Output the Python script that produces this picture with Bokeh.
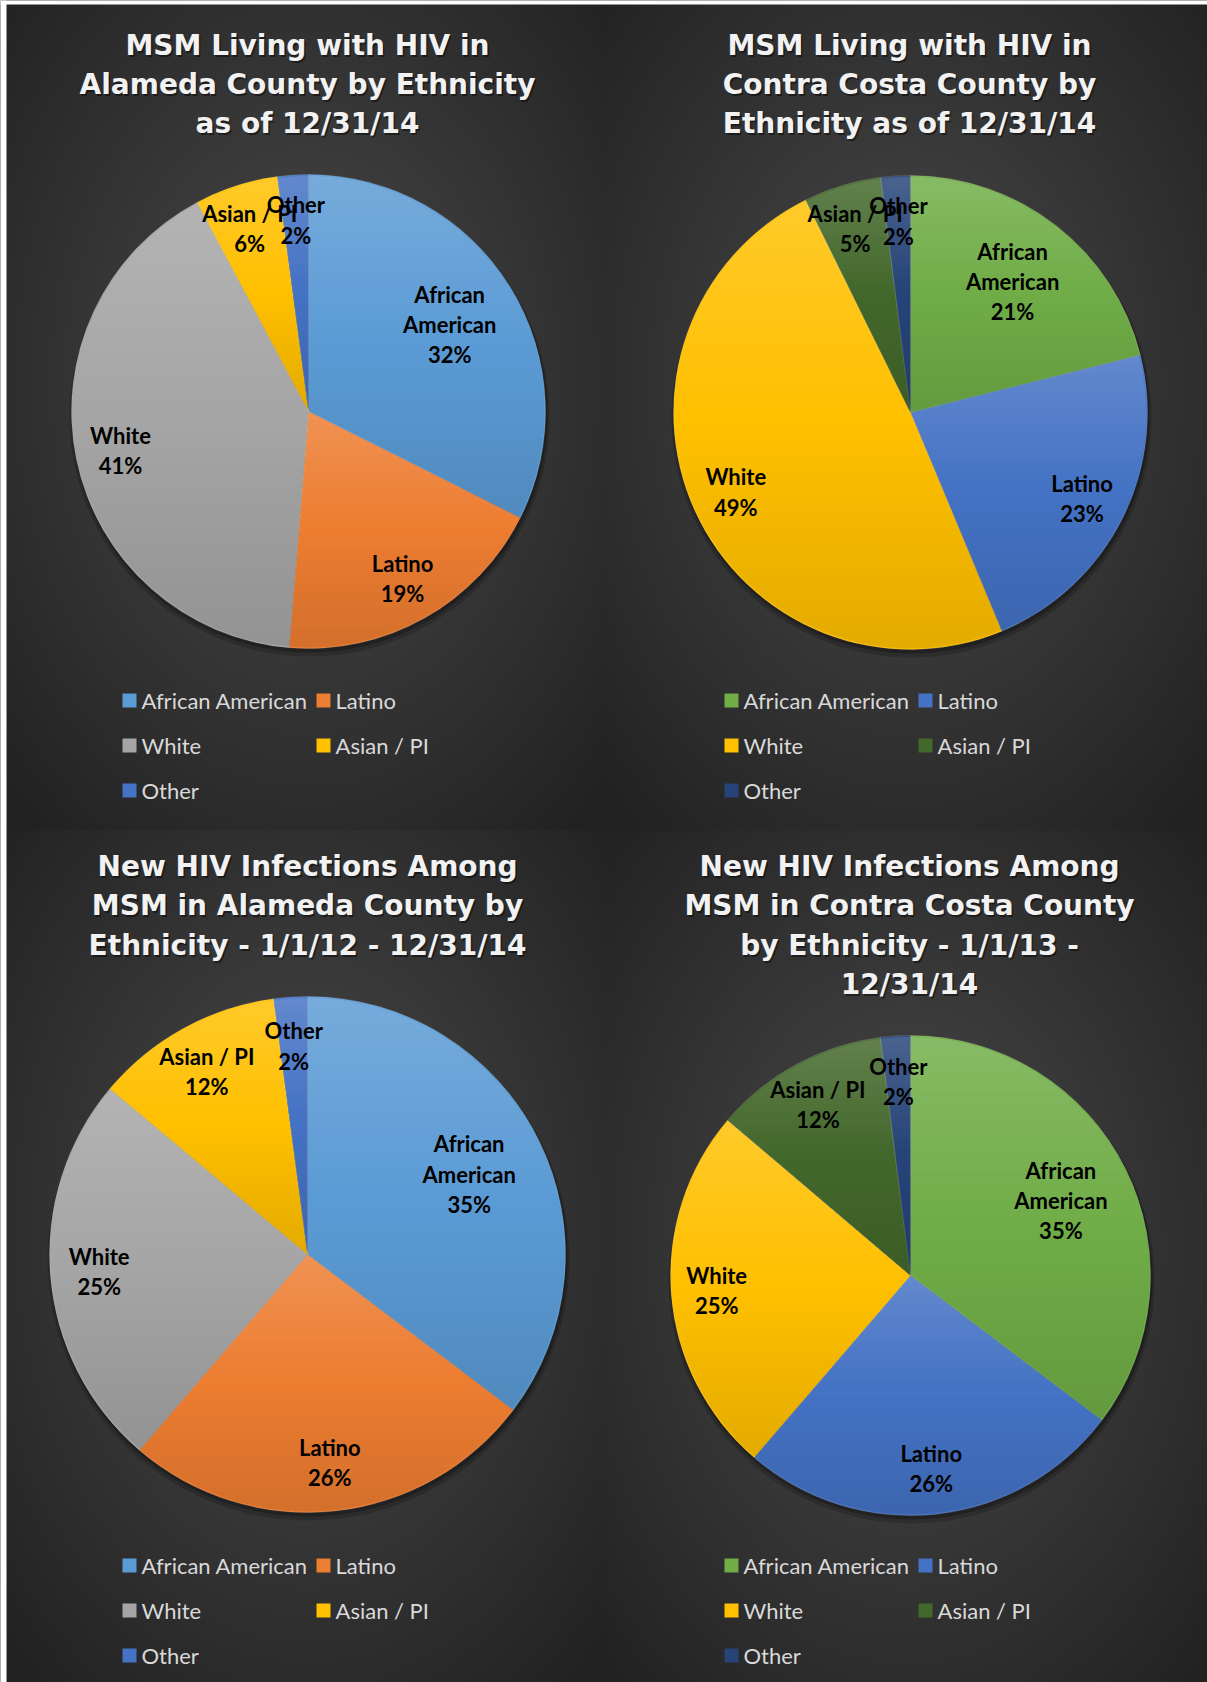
import numpy as np
from bokeh.plotting import figure
from bokeh.models import Range1d, ColumnDataSource
from bokeh.core.properties import value
from bokeh.embed import file_html
from bokeh.resources import INLINE

# ---------------- data ----------------
categories = ["African American", "Latino", "White", "Asian / PI", "Other"]
label_names = ["African\nAmerican", "Latino", "White", "Asian / PI", "Other"]

titles = [
    "MSM Living with HIV in\nAlameda County by Ethnicity\nas of 12/31/14",
    "MSM Living with HIV in\nContra Costa County by\nEthnicity as of 12/31/14",
    "New HIV Infections Among\nMSM in Alameda County by\nEthnicity - 1/1/12 - 12/31/14",
    "New HIV Infections Among\nMSM in Contra Costa County\nby Ethnicity - 1/1/13 -\n12/31/14",
]

alameda_living = [32.4, 18.9, 40.9, 5.7, 2.1]
contra_living = [21.1, 22.6, 49.0, 5.3, 2.0]
alameda_new = [35.3, 26.0, 24.8, 11.8, 2.1]
contra_new = [35.3, 26.0, 24.9, 11.8, 2.0]

alameda_colors = ["#5b9bd5", "#ed7d31", "#a5a5a5", "#ffc000", "#4472c4"]
contra_colors = ["#70ad47", "#4472c4", "#ffc000", "#43682b", "#264478"]

# ---------------- layout (page pixel coordinates) ----------------
W, H = 1207, 1682
charts = [
    dict(values=alameda_living, colors=alameda_colors, title=titles[0],
         cx=308, cy=411, r=237, tx=307, ty=44.5, lx=122, ly=700,
         bg=(6, 4, 604, 830)),
    dict(values=contra_living, colors=contra_colors, title=titles[1],
         cx=910, cy=412, r=237, tx=909, ty=44.5, lx=724, ly=700,
         bg=(604, 4, 1207, 830)),
    dict(values=alameda_new, colors=alameda_colors, title=titles[2],
         cx=307, cy=1254, r=258, tx=307, ty=866, lx=122, ly=1565,
         bg=(6, 830, 604, 1682)),
    dict(values=contra_new, colors=contra_colors, title=titles[3],
         cx=910, cy=1275, r=240, tx=909, ty=866, lx=724, ly=1565,
         bg=(604, 830, 1207, 1682)),
]

p = figure(width=W, height=H, x_range=Range1d(0, W), y_range=Range1d(-H, 0),
           output_backend="svg", toolbar_location=None, min_border=0,
           x_axis_type=None, y_axis_type=None)
p.grid.visible = False
p.outline_line_color = None
p.background_fill_color = "#2c2c2c"
p.border_fill_color = "white"


def rgba_image(r, g, b, a):
    ny, nx = a.shape
    img = np.empty((ny, nx), dtype=np.uint32)
    view = img.view(dtype=np.uint8).reshape((ny, nx, 4))
    view[:, :, 0] = r
    view[:, :, 1] = g
    view[:, :, 2] = b
    view[:, :, 3] = a
    return img[::-1]


def hex_rgb(hx):
    return [int(hx[i:i + 2], 16) for i in (1, 3, 5)]


# radial-gradient backgrounds per chart area
for c in charts:
    x0, y0, x1, y1 = c["bg"]
    w, h = x1 - x0, y1 - y0
    step = 2
    nx, ny = w // step + 2, h // step + 2
    xs = (np.arange(nx) + 0.5) * step + x0
    ys = (np.arange(ny) + 0.5) * step + y0
    X, Y = np.meshgrid(xs, ys)
    gx = (x0 + x1) / 2
    gy = c["cy"] - 30
    d = np.sqrt(((X - gx) / (w / 2)) ** 2 + ((Y - gy) / (h / 2)) ** 2) / np.sqrt(2)
    d = np.clip(d, 0, 1)
    g = (74 - 40 * d).astype(np.uint8)
    img = rgba_image(g, g, g, np.full(g.shape, 255, dtype=np.uint8))
    p.image_rgba(image=[img], x=x0, y=-(y0 + ny * step), dw=nx * step, dh=ny * step)

# white page strips left / top (as in the original screenshot)
p.quad(left=[0, 0], right=[6, W], top=[0, 0], bottom=[-H, -4], fill_color="white", line_color=None)

for c in charts:
    vals = np.array(c["values"], dtype=float)
    frac = vals / vals.sum()
    c1 = np.cumsum(frac)
    c0 = c1 - frac
    start = np.pi / 2 - 2 * np.pi * c1
    end = np.pi / 2 - 2 * np.pi * c0
    cx, cy, r = c["cx"], -c["cy"], c["r"]

    # shadow
    p.circle(x=cx + 1, y=cy - 5, radius=r + 3, fill_color="black", fill_alpha=0.18, line_color=None)
    p.circle(x=cx + 1, y=cy - 3, radius=r + 1, fill_color="black", fill_alpha=0.25, line_color=None)

    src = ColumnDataSource(dict(start=start, end=end, color=c["colors"]))
    p.wedge(x=cx, y=cy, radius=r, start_angle="start", end_angle="end", direction="anticlock",
            fill_color="color", line_color="white", line_alpha=0.25, line_width=0.6, source=src)

    # per-slice vertical shading overlay (lighter top, deeper shade at bottom)
    scy = c["cy"]
    ymin = np.minimum(scy, np.minimum(scy - r * np.cos(2 * np.pi * c0), scy - r * np.cos(2 * np.pi * c1)))
    ymax = np.maximum(scy, np.maximum(scy - r * np.cos(2 * np.pi * c0), scy - r * np.cos(2 * np.pi * c1)))
    ymin = np.where(c0 <= 1e-9, scy - r, ymin)
    ymax = np.where((c0 <= 0.5) & (c1 >= 0.5), scy + r, ymax)
    n = 2 * r + 2
    px = np.arange(n) + (cx - r - 1) + 0.5
    py = np.arange(n) + (scy - r - 1) + 0.5
    PX, PY = np.meshgrid(px, py)
    dx, dy = PX - cx, PY - scy
    dist = np.sqrt(dx ** 2 + dy ** 2)
    f = (np.arctan2(dx, -dy) / (2 * np.pi)) % 1.0
    k = np.clip(np.searchsorted(c1, f, side="right"), 0, len(vals) - 1)
    t = np.clip((PY - ymin[k]) / (ymax[k] - ymin[k]), 0, 1)
    cover = np.clip(r - 0.6 - dist, 0, 1)
    white_a = np.clip(0.5 - t, 0, 0.5) * 2 * 0.17
    dark_a = np.clip(t - 0.5, 0, 0.5) * 2 * 0.55
    a = np.maximum(white_a, dark_a) * cover
    base = np.array([hex_rgb(hx) for hx in c["colors"]], dtype=float)
    shade = base * 0.80
    light = white_a > 0
    rr = np.where(light, 255, shade[k, 0]).astype(np.uint8)
    gg = np.where(light, 255, shade[k, 1]).astype(np.uint8)
    bb = np.where(light, 255, shade[k, 2]).astype(np.uint8)
    ov = rgba_image(rr, gg, bb, (a * 255).astype(np.uint8))
    p.image_rgba(image=[ov], x=cx - r - 1, y=cy - r - 1, dw=n, dh=n)

    # data labels
    mid = (c0 + c1) / 2
    ang = np.pi / 2 - 2 * np.pi * mid
    texts = [f"{nm}\n{round(v)}%" for nm, v in zip(label_names, vals)]
    rf = np.array([0.70 if tx.count("\n") >= 2 else 0.81 for tx in texts])
    lsrc = ColumnDataSource(dict(x=cx + rf * r * np.cos(ang), y=cy + rf * r * np.sin(ang), text=texts))
    p.text(x="x", y="y", text="text", source=lsrc, text_font=value("Lato"), text_font_style="bold",
           text_font_size="22px", text_align="center", text_baseline="middle",
           text_line_height=1.12, text_color="black")

    # title
    lines = c["title"].split("\n")
    ty = [-(c["ty"] + 39.4 * j) for j in range(len(lines))]
    p.text(x=[c["tx"] + 1.5] * len(lines), y=[tt - 2 for tt in ty], text=lines,
           text_font=value("DejaVu Sans"), text_font_style="bold", text_font_size="28px",
           text_align="center", text_baseline="alphabetic", text_color="black", text_alpha=0.45)
    p.text(x=[c["tx"]] * len(lines), y=ty, text=lines,
           text_font=value("DejaVu Sans"), text_font_style="bold", text_font_size="28px",
           text_align="center", text_baseline="alphabetic", text_color="#f2f2f2")

    # legend
    idx = np.arange(len(categories))
    lx = c["lx"] + (idx % 2) * 194
    ly = c["ly"] + (idx // 2) * 45
    p.quad(left=lx, right=lx + 14, top=-(ly - 7), bottom=-(ly + 7),
           fill_color=c["colors"], line_color=None)
    p.text(x=lx + 19, y=-ly, text=categories, text_font=value("Lato"), text_font_size="22px",
           text_align="left", text_baseline="middle", text_color="#d9d9d9")

open("out.html", "w").write(file_html(p, INLINE))
